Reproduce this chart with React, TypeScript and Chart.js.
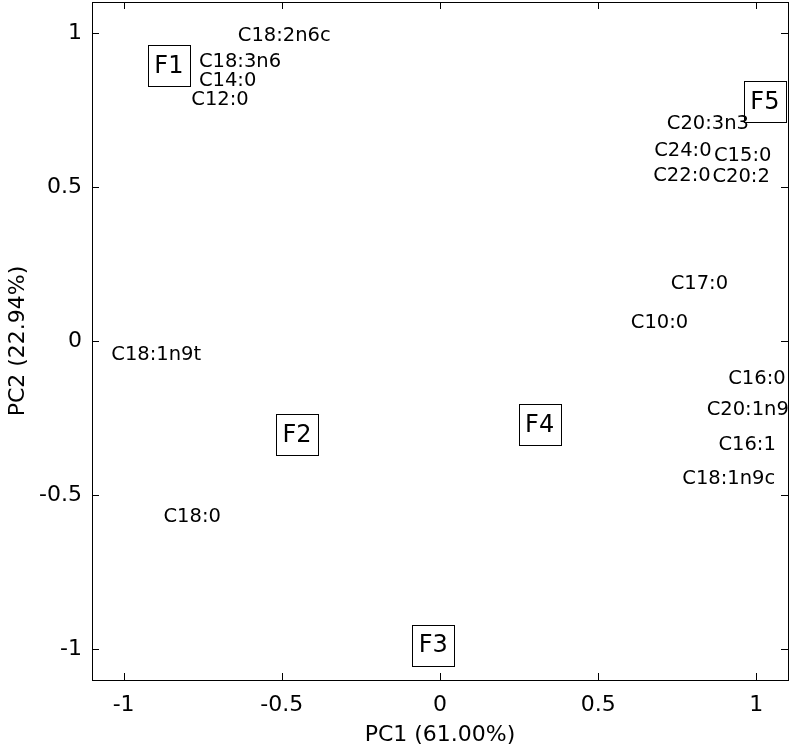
import React, { useEffect, useRef } from "react";
import { Chart, registerables } from "chart.js";

Chart.register(...registerables);

// Fatty-acid loadings (text anchor: left edge, vertical middle)
const acidNames = [
  "C18:2n6c", "C18:3n6", "C14:0", "C12:0",
  "C20:3n3", "C24:0", "C15:0", "C22:0", "C20:2",
  "C17:0", "C10:0",
  "C16:0", "C20:1n9", "C16:1", "C18:1n9c",
  "C18:1n9t", "C18:0",
];
const acidPC1 = [
  -0.639, -0.762, -0.762, -0.786,
  0.717, 0.677, 0.866, 0.674, 0.861,
  0.729, 0.603,
  0.911, 0.843, 0.880, 0.766,
  -1.039, -0.874,
];
const acidPC2 = [
  0.990, 0.906, 0.845, 0.782,
  0.704, 0.616, 0.602, 0.537, 0.531,
  0.184, 0.060,
  -0.122, -0.224, -0.338, -0.449,
  -0.046, -0.572,
];

// Samples (boxed labels, anchor: centre)
const sampleNames = ["F1", "F2", "F3", "F4", "F5"];
const samplePC1 = [-0.857, -0.452, -0.021, 0.315, 1.027];
const samplePC2 = [0.894, -0.304, -0.987, -0.271, 0.776];

const xTicks = [-1, -0.5, 0, 0.5, 1];
const yTicks = [-1, -0.5, 0, 0.5, 1];
const xTitle = "PC1 (61.00%)";
const yTitle = "PC2 (22.94%)";

const FONT = "'DejaVu Sans', 'Liberation Sans', Arial, sans-serif";

const labelPlugin = {
  id: "biplotLabels",
  afterDraw(chart: any) {
    const ctx = chart.ctx;
    const xs = chart.scales.x;
    const ys = chart.scales.y;
    const area = chart.chartArea;
    ctx.save();
    // inward ticks on all four sides
    ctx.strokeStyle = "#000";
    ctx.lineWidth = 1;
    const tl = 7;
    ctx.beginPath();
    xs.ticks.forEach((t: any) => {
      const px = Math.round(xs.getPixelForValue(t.value)) + 0.5;
      ctx.moveTo(px, area.bottom);
      ctx.lineTo(px, area.bottom - tl);
      ctx.moveTo(px, area.top);
      ctx.lineTo(px, area.top + tl);
    });
    ys.ticks.forEach((t: any) => {
      const py = Math.round(ys.getPixelForValue(t.value)) + 0.5;
      ctx.moveTo(area.left, py);
      ctx.lineTo(area.left + tl, py);
      ctx.moveTo(area.right, py);
      ctx.lineTo(area.right - tl, py);
    });
    ctx.stroke();
    // full box
    ctx.strokeRect(Math.round(area.left) + 0.5, Math.round(area.top) + 0.5,
      Math.round(area.right - area.left), Math.round(area.bottom - area.top));

    // acid labels
    ctx.fillStyle = "#000";
    ctx.font = `19.5px ${FONT}`;
    ctx.textAlign = "left";
    ctx.textBaseline = "middle";
    acidNames.forEach((name, i) => {
      const px = xs.getPixelForValue(acidPC1[i]);
      const py = ys.getPixelForValue(acidPC2[i]);
      ctx.fillText(name, px, py);
    });

    // sample boxes
    ctx.font = `24px ${FONT}`;
    ctx.textAlign = "center";
    sampleNames.forEach((name, i) => {
      const px = xs.getPixelForValue(samplePC1[i]);
      const py = ys.getPixelForValue(samplePC2[i]);
      const w = 42;
      const h = 41;
      ctx.strokeRect(Math.round(px - w / 2) + 0.5, Math.round(py - h / 2) + 0.5, w, h);
      ctx.fillText(name, px, py + 1);
    });
    ctx.restore();
  },
};

export default function App() {
  const ref = useRef<HTMLCanvasElement | null>(null);
  useEffect(() => {
    document.body.style.margin = "0";
    const canvas = ref.current!;
    const chart = new Chart(canvas, {
      type: "scatter",
      data: {
        datasets: [
          {
            label: "acids",
            data: acidNames.map((_, i) => ({ x: acidPC1[i], y: acidPC2[i] })),
            pointRadius: 0,
            showLine: false,
          },
          {
            label: "samples",
            data: sampleNames.map((_, i) => ({ x: samplePC1[i], y: samplePC2[i] })),
            pointRadius: 0,
            showLine: false,
          },
        ],
      },
      options: {
        responsive: false,
        animation: false,
        devicePixelRatio: 1,
        layout: { padding: { top: 2, right: 3, left: 0, bottom: 0 } },
        plugins: {
          legend: { display: false },
          tooltip: { enabled: false },
        },
        scales: {
          x: {
            type: "linear",
            min: -1.1,
            max: 1.1,
            grid: { display: false, drawTicks: false },
            border: { display: true, color: "#000", width: 1 },
            afterBuildTicks: (s: any) => {
              s.ticks = xTicks.map((v) => ({ value: v }));
            },
            afterFit: (s: any) => {
              s.height = 72;
              s.paddingLeft = 0;
              s.paddingRight = 0;
            },
            ticks: {
              color: "#000",
              padding: 12,
              maxRotation: 0,
              font: { family: FONT, size: 22 },
              callback: (v: any) => String(v),
            },
            title: {
              display: true,
              text: xTitle,
              color: "#000",
              font: { family: FONT, size: 22 },
              padding: { top: 0, bottom: 4 },
            },
          },
          y: {
            type: "linear",
            min: -1.1,
            max: 1.1,
            grid: { display: false, drawTicks: false },
            border: { display: true, color: "#000", width: 1 },
            afterBuildTicks: (s: any) => {
              s.ticks = yTicks.map((v) => ({ value: v }));
            },
            afterFit: (s: any) => {
              s.width = 92;
              s.paddingTop = 0;
              s.paddingBottom = 0;
            },
            ticks: {
              color: "#000",
              padding: 10,
              font: { family: FONT, size: 22 },
              callback: (v: any) => String(v),
            },
            title: {
              display: true,
              text: yTitle,
              color: "#000",
              font: { family: FONT, size: 22 },
              padding: { top: 5, bottom: 0 },
            },
          },
        },
      },
      plugins: [labelPlugin],
    });
    return () => chart.destroy();
  }, []);
  return (
    <div style={{ width: 791, height: 752, background: "#fff" }}>
      <canvas ref={ref} width={791} height={752} style={{ display: "block" }} />
    </div>
  );
}
